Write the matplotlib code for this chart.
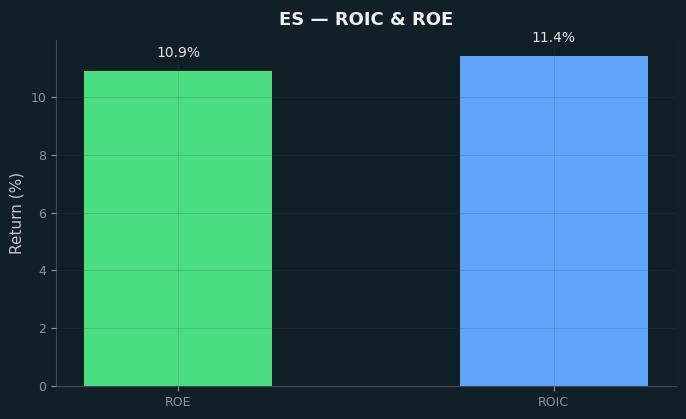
import matplotlib.pyplot as plt

metrics = ["ROE", "ROIC"]
values = [10.9, 11.4]
colors = ["#4ade80", "#60a5fa"]

fig = plt.figure(figsize=(6.86, 4.19), dpi=100, facecolor="#111f27")
ax = fig.add_axes([0.0816, 0.0788, 0.9034, 0.8257])
ax.set_facecolor("#0f1f25")

bars = ax.bar(metrics, values, width=0.5, color=colors)
for b, v in zip(bars, values):
    ax.annotate(f"{v:.1f}%", (b.get_x() + b.get_width() / 2, v),
                xytext=(0, 8), textcoords="offset points",
                ha="center", va="bottom", color="#e6e6e6", fontsize=10)

ax.grid(True, color="#3a4a52", alpha=0.2, linewidth=0.7)
ax.set_axisbelow(False)
for s in ["top", "right"]:
    ax.spines[s].set_visible(False)
for s in ["left", "bottom"]:
    ax.spines[s].set_color("#3d4a52")
ax.tick_params(colors="#8a949a", labelsize=9)
ax.set_ylabel("Return (%)", color="#c0c6ca", fontsize=11)
ax.set_title("ES — ROIC & ROE", color="#f0f0f0", fontsize=13, fontweight="bold", pad=10.5)

fig.savefig("out.png", dpi=100, facecolor=fig.get_facecolor())
